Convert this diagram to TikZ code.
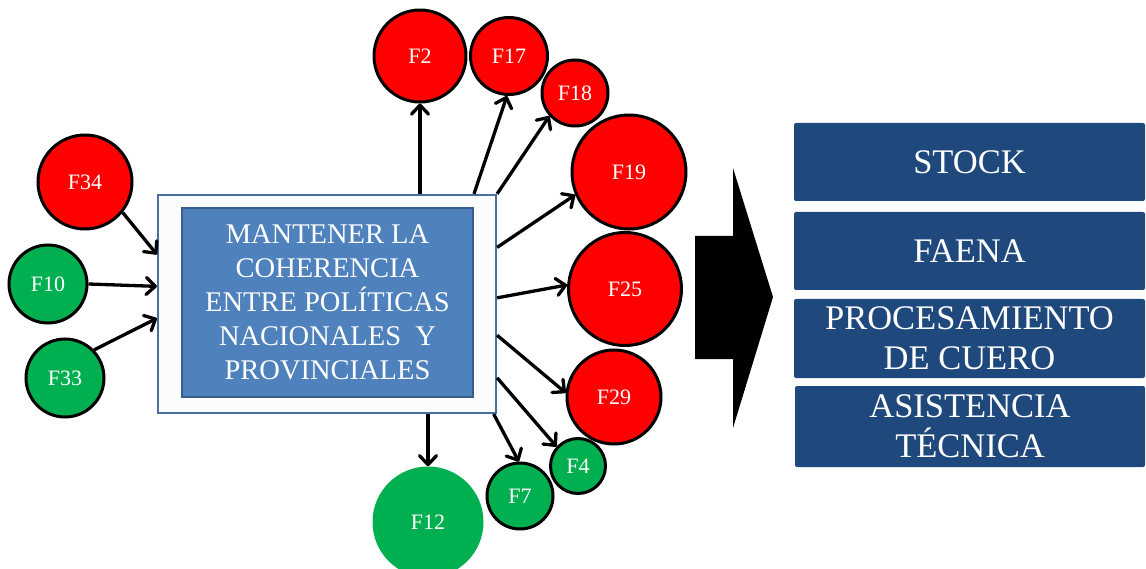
\documentclass[tikz,border=0pt]{standalone}
\usepackage{fontspec}
\setmainfont{Liberation Serif}
\usetikzlibrary{arrows.meta,calc}
\definecolor{fred}{HTML}{FF0000}
\definecolor{fgreen}{HTML}{00B050}
\definecolor{boxblue}{HTML}{4F81BD}
\definecolor{boxedge}{HTML}{385D8A}
\definecolor{outeredge}{HTML}{4A6FA0}
\definecolor{outerfill}{HTML}{FAFCFE}
\definecolor{darkblue}{HTML}{1F497D}
\tikzset{
  fcirc/.style={circle, inner sep=0pt, text=white, font=\fontsize{22}{26}\selectfont},
  redc/.style={fcirc, fill=fred, draw=black, line width=3pt},
  greenc/.style={fcirc, fill=fgreen, draw=black, line width=3pt},
  conn/.style={line width=3.3pt, -{Straight Barb[length=9pt,width=17pt,round]}},
  rbox/.style={fill=darkblue, rounded corners=2pt, minimum width=351pt, inner sep=0pt,
    text=white, align=center, font=\fontsize{34.5}{40}\selectfont},
}
\begin{document}
\begin{tikzpicture}[x=1pt,y=-1pt]
\useasboundingbox (0,0) rectangle (1146,569);
\clip (0,0) rectangle (1146,569);
% central box
\node[draw=outeredge, line width=2.2pt, fill=outerfill, minimum width=338pt, minimum height=218pt, inner sep=0pt] (box) at (327,304) {};
\node[draw=boxedge, line width=2.2pt, fill=boxblue, minimum width=291pt, minimum height=189pt, inner sep=0pt,
  text=white, align=center, font=\fontsize{28.5}{34}\selectfont] (inner) at (327.5,302.5)
  {MANTENER LA\\COHERENCIA\\ENTRE POLÍTICAS\\NACIONALES\ \ Y\\PROVINCIALES};
% circles
\node[redc, minimum size=92pt] (F2) at (420,56) {F2};
\node[redc, minimum size=77pt] (F17) at (509,56) {F17};
\node[redc, minimum size=66pt] (F18) at (575,93) {F18};
\node[redc, minimum size=114pt] (F19) at (629,172) {F19};
\node[redc, minimum size=113pt] (F25) at (625,289) {F25};
\node[redc, minimum size=94pt] (F29) at (614,397) {F29};
\node[greenc, minimum size=55pt] (F4) at (578,466) {F4};
\node[greenc, minimum size=66pt] (F7) at (520,496) {F7};
\node[fcirc, fill=fgreen, minimum size=111pt] (F12) at (428,522) {F12};
\node[redc, minimum size=94pt] (F34) at (85,182) {F34};
\node[greenc, minimum size=78pt] (F10) at (48,284) {F10};
\node[greenc, minimum size=78pt] (F33) at (65,378) {F33};
% connectors
\draw[conn] (F34.-39) -- ($(box.north west)!0.275!(box.south west)$);
\draw[conn] (F10.0) -- ($(box.north west)!0.42!(box.south west)$);
\draw[conn] (F33.44) -- ($(box.north west)!0.565!(box.south west)$);
\draw[conn] (F2.south |- box.north) -- (F2.south);
\draw[conn] ($(box.north west)!0.932!(box.north east)$) -- (F17.-93);
\draw[conn] (box.north east) -- (F18.-138);
\draw[conn] ($(box.north east)!0.243!(box.south east)$) -- (F19.-157);
\draw[conn] ($(box.north east)!0.472!(box.south east)$) -- (F25.176);
\draw[conn] ($(box.north east)!0.642!(box.south east)$) -- (F29.175);
\draw[conn] ($(box.north east)!0.835!(box.south east)$) -- (F4.138);
\draw[conn] ($(box.south west)!0.99!(box.south east)$) -- (F7.92);
\draw[conn] (F12.north |- box.south) -- (F12.north);
% big arrow
\fill[black] (695,236) -- (733,236) -- (733,168) -- (773,297) -- (733,428) -- (733,359) -- (695,359) -- cycle;
% right boxes
\node[rbox, minimum height=78pt] (stock) at (969.5,162) {STOCK};
\node[rbox, minimum height=78pt] (faena) at (969.5,251) {FAENA};
\node[rbox, minimum height=79pt] (proc) at (969.5,338.5) {PROCESAMIENTO\\DE CUERO};
\node[rbox, minimum height=81pt, minimum width=350pt] (asis) at (970,426.5) {ASISTENCIA\\TÉCNICA};
\end{tikzpicture}
\end{document}
